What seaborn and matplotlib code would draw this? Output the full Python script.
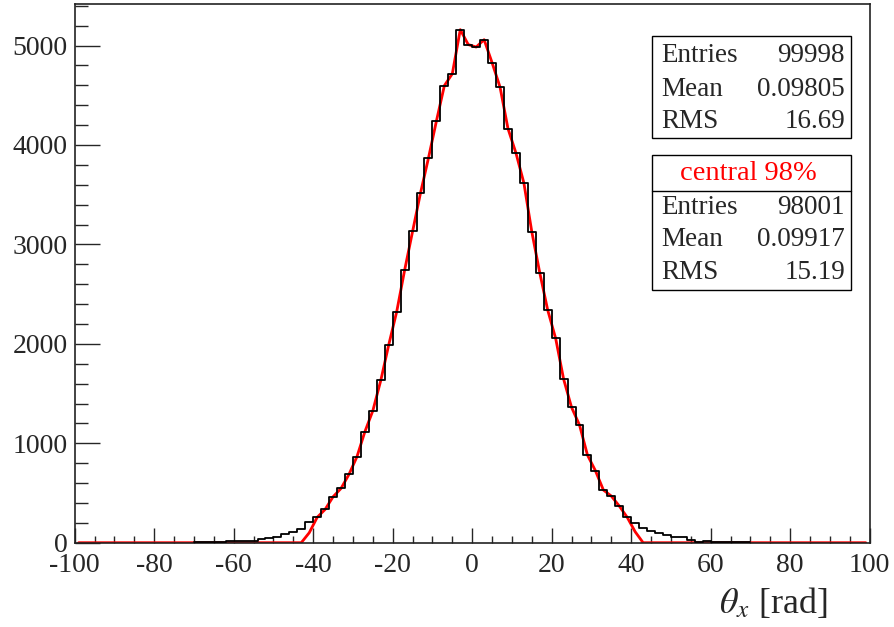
import numpy as np
import pandas as pd
import matplotlib
matplotlib.use('Agg')
import matplotlib.pyplot as plt
import seaborn as sns
from matplotlib.ticker import MultipleLocator
from matplotlib.patches import Rectangle

# bin contents, bins of width 2 starting at -70
first_edge = -70
counts = [3, 5, 8, 12, 14, 16, 18, 22, 35, 48,
          60, 84, 111, 138, 211, 255, 335, 462, 546, 687,
          864, 1116, 1327, 1632, 1990, 2322, 2741, 3130, 3518, 3869,
          4241, 4597, 4717, 5160, 5010, 4985, 5059, 4828, 4583, 4165,
          3920, 3618, 3126, 2714, 2339, 2054, 1645, 1361, 1183, 881,
          724, 530, 469, 369, 255, 201, 144, 121, 95, 77,
          55, 54, 27, 8, 20, 10, 8, 6, 5, 3]

# central 98% histogram: only bins -42..42 are filled (edge bins partially)
central_first_edge = -42
central_counts = [100, 255, 335, 462, 546, 687,
                  864, 1116, 1327, 1632, 1990, 2322, 2741, 3130, 3518, 3869,
                  4241, 4597, 4717, 5160, 5010, 4985, 5059, 4828, 4583, 4165,
                  3920, 3618, 3126, 2714, 2339, 2054, 1645, 1361, 1183, 881,
                  724, 530, 469, 369, 255, 110]

stat_names = ['Entries', 'Mean', 'RMS']
stat_all = ['99998', '0.09805', '16.69']
stat_central = ['98001', '0.09917', '15.19']
central_title = 'central 98%'

# full histogram range -100..100
all_edges = np.arange(-100, 101, 2)
all_centers = all_edges[:-1] + 1

last_edge = first_edge + 2 * len(counts)
hist = pd.DataFrame({'x': np.arange(first_edge, last_edge, 2) + 1.0, 'n': counts})

central = pd.DataFrame({'x': all_centers, 'n': 0.0})
cidx = (central['x'] > central_first_edge) & (central['x'] < central_first_edge + 2 * len(central_counts))
central.loc[cidx, 'n'] = central_counts

sns.set_style('ticks')
plt.rcParams['font.family'] = ['Liberation Serif', 'DejaVu Serif']
plt.rcParams['mathtext.fontset'] = 'stix'
plt.rcParams['axes.unicode_minus'] = False

W, H = 895, 627
fig = plt.figure(figsize=(W / 100, H / 100), dpi=100)
ax = fig.add_axes([74.7 / W, 1 - 542.7 / H, (869.7 - 74.7) / W, (542.7 - 4) / H])

sns.lineplot(data=central, x='x', y='n', color='red', linewidth=2.0, ax=ax, zorder=2)
sns.histplot(data=hist, x='x', weights='n', binwidth=2, binrange=(first_edge, last_edge),
             element='step', fill=False, color='black', linewidth=1.3, ax=ax, zorder=3)

ax.set_xlim(-100, 100)
ax.set_ylim(0, 5418)
ax.set_xlabel('')
ax.set_ylabel('')

ax.xaxis.set_major_locator(MultipleLocator(20))
ax.xaxis.set_minor_locator(MultipleLocator(5))
ax.yaxis.set_major_locator(MultipleLocator(1000))
ax.yaxis.set_minor_locator(MultipleLocator(200))
ax.tick_params(axis='x', which='major', direction='in', length=11, width=1, labelsize=20, pad=7.5)
ax.tick_params(axis='x', which='minor', direction='in', length=5, width=1)
ax.tick_params(axis='y', which='major', direction='in', length=18, width=1, labelsize=20, pad=5)
ax.tick_params(axis='y', which='minor', direction='in', length=9, width=1)
for s in ax.spines.values():
    s.set_linewidth(1.2)
    s.set_color('#222222')

fig.text(828 / W, 1 - 604 / H, r'$\theta_x$ [rad]', ha='right', va='center', fontsize=26)

# stat boxes
def fx(px):
    return px / W

def fy(py):
    return 1 - py / H

def box(top, bottom):
    fig.patches.append(Rectangle((fx(652), fy(bottom)), fx(851) - fx(652), fy(top) - fy(bottom),
                                 transform=fig.transFigure, fill=False, edgecolor='black',
                                 linewidth=1.0))

box(36, 138)
rows1 = [55, 89, 122]
for name, val, y in zip(stat_names, stat_all, rows1):
    fig.text(fx(661), fy(y), name, ha='left', va='center', fontsize=19.5)
    fig.text(fx(845), fy(y), val, ha='right', va='center', fontsize=19.5)

box(155, 290)
fig.add_artist(plt.Line2D([fx(652), fx(851)], [fy(190.5), fy(190.5)], color='black',
                          linewidth=1.0, transform=fig.transFigure))
fig.text(fx(748), fy(174), central_title, ha='center', va='center', fontsize=20.5, color='red')
rows2 = [207, 240, 273]
for name, val, y in zip(stat_names, stat_central, rows2):
    fig.text(fx(661), fy(y), name, ha='left', va='center', fontsize=19.5)
    fig.text(fx(845), fy(y), val, ha='right', va='center', fontsize=19.5)

fig.savefig('out.png', dpi=100)
